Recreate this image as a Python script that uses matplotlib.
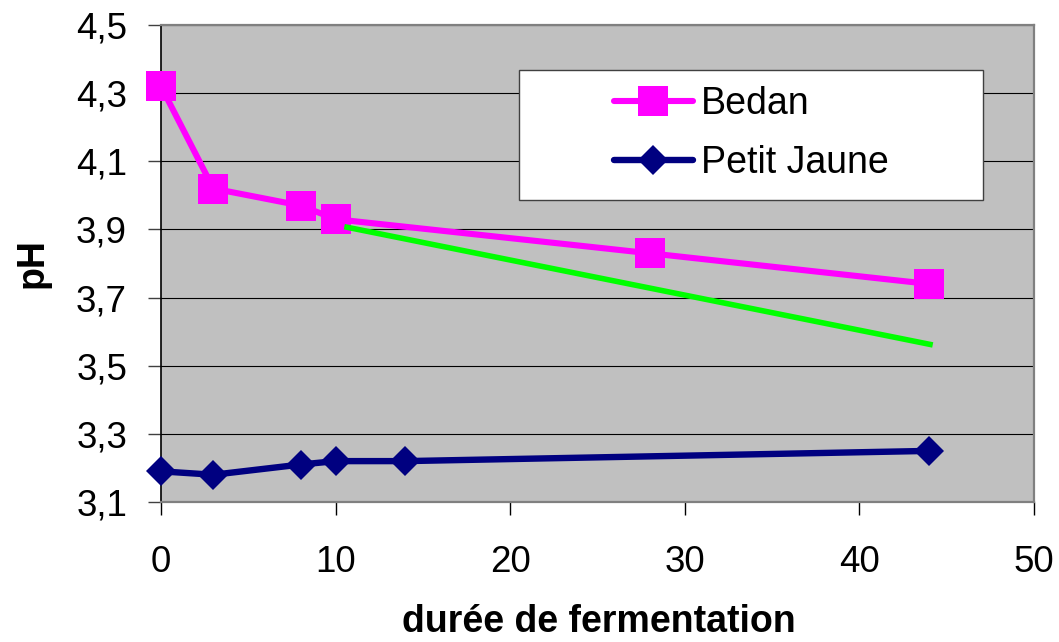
import matplotlib
matplotlib.use("Agg")
import matplotlib.pyplot as plt
from matplotlib.patches import Rectangle
from matplotlib.ticker import FixedLocator, FuncFormatter

plt.rcParams["font.family"] = ["Liberation Sans", "DejaVu Sans"]

# pH measurements over fermentation time (days)
bedan_days = [0, 3, 8, 10, 28, 44]
bedan_ph = [4.32, 4.02, 3.97, 3.93, 3.83, 3.74]

petit_jaune_days = [0, 3, 8, 10, 14, 44]
petit_jaune_ph = [3.19, 3.18, 3.21, 3.22, 3.22, 3.25]

# linear trend drawn over the later Bedan points
trend_days = [10.5, 44.2]
trend_ph = [3.908, 3.561]

x_ticks = [0, 10, 20, 30, 40, 50]
y_ticks = [3.1, 3.3, 3.5, 3.7, 3.9, 4.1, 4.3, 4.5]

fig = plt.figure(figsize=(10.59, 6.42), dpi=100)
ax = fig.add_axes([161 / 1059, 1 - 502 / 642, 873 / 1059, 477 / 642])
ax.set_facecolor("#C0C0C0")

ax.plot(bedan_days, bedan_ph, color="#FF00FF", lw=4.4, marker="s",
        ms=22, mew=0, label="Bedan", zorder=3, solid_capstyle="round",
        clip_on=False)
ax.plot(petit_jaune_days, petit_jaune_ph, color="#000080", lw=4.6, marker="D",
        ms=15.3, mew=0, label="Petit Jaune", zorder=3, solid_capstyle="round",
        clip_on=False)
ax.plot(trend_days, trend_ph, color="#00FF00", lw=4.0, zorder=4,
        solid_capstyle="butt")

ax.set_xlim(0, 50)
ax.set_ylim(3.1, 4.5)
ax.xaxis.set_major_locator(FixedLocator(x_ticks))
ax.yaxis.set_major_locator(FixedLocator(y_ticks))
ax.yaxis.set_major_formatter(FuncFormatter(lambda v, p: f"{v:.1f}".replace(".", ",")))
ax.xaxis.set_major_formatter(FuncFormatter(lambda v, p: f"{v:.0f}"))

ax.grid(axis="y", color="black", lw=0.8, zorder=1)
ax.set_axisbelow(True)

ax.tick_params(axis="y", direction="out", length=9.4, width=1.0, color="#404040",
               pad=15, labelsize=26.5)
ax.tick_params(axis="x", direction="out", length=9.0, width=1.0, color="black",
               pad=22, labelsize=26.5)

for side in ("top", "right", "bottom"):
    ax.spines[side].set_color("#808080")
    ax.spines[side].set_linewidth(1.6)
ax.spines["left"].set_color("black")
ax.spines["left"].set_linewidth(1.2)

ax.set_xlabel("durée de fermentation", fontsize=27, fontweight="bold")
ax.set_ylabel("pH", fontsize=27, fontweight="bold")
ax.xaxis.set_label_coords(0.502, -0.214)
ax.yaxis.set_label_coords(-0.126, 0.5)

# legend box
ax.add_patch(Rectangle((0.410, 0.633), 0.5316, 0.2727, transform=ax.transAxes,
                       facecolor="white", edgecolor="#404040", lw=1.0, zorder=5))
leg = ax.legend(loc="center", bbox_to_anchor=(0.676, 0.773), frameon=False,
                fontsize=27, handlelength=2.1, handletextpad=0.22,
                labelspacing=0.62, borderpad=0, borderaxespad=0)
leg.set_zorder(6)

fig.savefig("out.png", dpi=100)
